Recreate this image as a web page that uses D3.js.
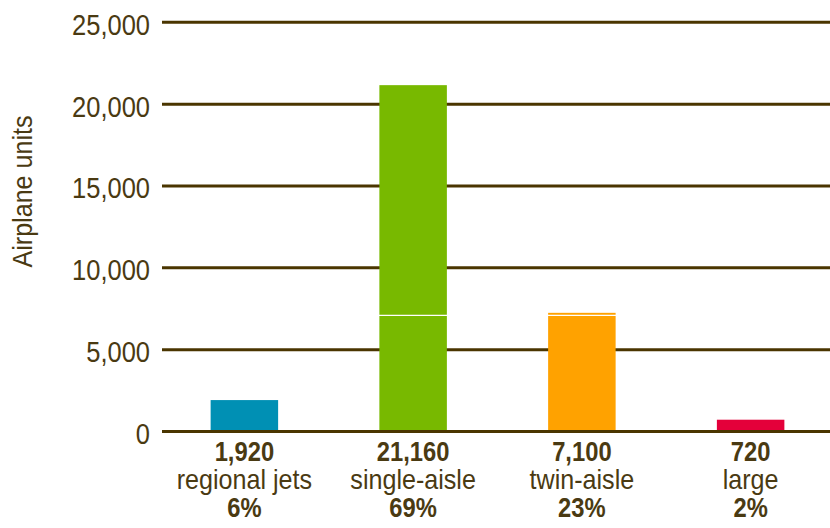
<!DOCTYPE html>
<html>
<head>
<meta charset="utf-8">
<script src="https://cdn.jsdelivr.net/npm/d3@7"></script>
<style>
  html, body { margin: 0; padding: 0; background: #fff; }
  svg { display: block; }
  text { font-family: "Liberation Sans", Arial, sans-serif; }
</style>
</head>
<body>
<svg id="chart" width="830" height="528"></svg>
<script>
// ---- data ----
const categories = ["regional jets", "single-aisle", "twin-aisle", "large"];
const barValues = [1920, 21160, 7250, 720];          // drawn bar heights
const valueLabels = ["1,920", "21,160", "7,100", "720"];
const shareLabels = ["6%", "69%", "23%", "2%"];
const barColors = ["#0090b4", "#78b900", "#ffa200", "#e4003a"];
const yTicks = [0, 5000, 10000, 15000, 20000, 25000];
const markerValue = 7100;                              // thin white rule across bars
const yTitle = "Airplane units";

// ---- layout ----
const svg = d3.select("#chart");
const ink = "#4a3a12";
const gridColor = "#4a3500";

const y = d3.scaleLinear().domain([0, 25000]).range([431.5, 22.3]);
const x = d3.scaleBand().domain(categories).range([160, 835]).padding(0);
const barW = x.bandwidth() * 0.4;

// tick labels via axis
const yAxis = d3.axisLeft(y).tickValues(yTicks).tickFormat(d3.format(",")).tickSize(0).tickPadding(0);
const gAxis = svg.append("g").attr("transform", "translate(150,0)").call(yAxis);
gAxis.select(".domain").remove();
gAxis.selectAll("text")
  .attr("x", 0)
  .attr("dy", "0.4em")
  .attr("transform", "scale(0.85,1)")
  .style("font-family", '"Liberation Sans", Arial, sans-serif')
  .style("font-size", "30px")
  .attr("fill", ink);

// gridlines
svg.append("g").selectAll("line.grid")
  .data(yTicks.filter(d => d !== 0))
  .join("line")
  .attr("x1", 162).attr("x2", 830)
  .attr("y1", d => y(d)).attr("y2", d => y(d))
  .attr("stroke", gridColor).attr("stroke-width", 3);

// bars
svg.append("g").selectAll("rect")
  .data(categories)
  .join("rect")
  .attr("x", d => x(d) + (x.bandwidth() - barW) / 2)
  .attr("width", barW)
  .attr("y", (d, i) => y(barValues[i]))
  .attr("height", (d, i) => y(0) - y(barValues[i]))
  .attr("fill", (d, i) => barColors[i]);

// white marker rule
svg.append("line")
  .attr("x1", 162).attr("x2", 830)
  .attr("y1", y(markerValue)).attr("y2", y(markerValue))
  .attr("stroke", "#fff").attr("stroke-width", 1.2);

// baseline
svg.append("line")
  .attr("x1", 162).attr("x2", 830)
  .attr("y1", y(0)).attr("y2", y(0))
  .attr("stroke", gridColor).attr("stroke-width", 3);

// category labels
const lab = svg.append("g").selectAll("g")
  .data(categories)
  .join("g")
  .attr("transform", d => `translate(${x(d) + x.bandwidth() / 2},0)`);

function addLine(yPos, sx, bold, fn) {
  lab.append("text")
    .attr("transform", `translate(0,${yPos}) scale(${sx},1)`)
    .attr("text-anchor", "middle")
    .style("font-size", "27px")
    .style("font-weight", bold ? "bold" : "normal")
    .attr("fill", ink)
    .text(fn);
}
addLine(461, 0.88, true, (d, i) => valueLabels[i]);
addLine(489, 0.93, false, d => d);
addLine(517, 0.88, true, (d, i) => shareLabels[i]);

// y title
svg.append("text")
  .attr("transform", "translate(32,191.5) rotate(-90) scale(0.93,1)")
  .attr("text-anchor", "middle")
  .style("font-size", "27px")
  .attr("fill", ink)
  .text(yTitle);
</script>
</body>
</html>
